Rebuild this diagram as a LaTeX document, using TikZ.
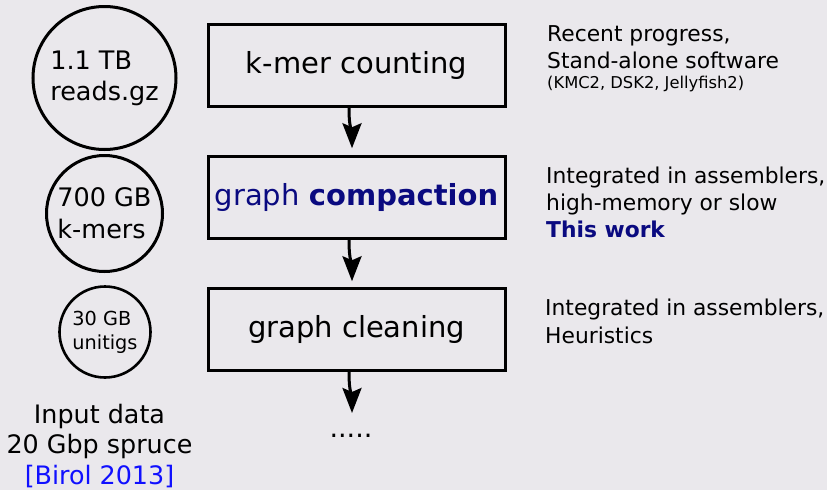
\documentclass[tikz,border=0pt]{standalone}
\usepackage{fontspec}
\setmainfont{DejaVu Sans}
\usetikzlibrary{arrows.meta,calc}
\definecolor{bg}{HTML}{EAE8EC}
\definecolor{navy}{HTML}{0A0A80}
\definecolor{refblue}{HTML}{1010FF}
\begin{document}
\begin{tikzpicture}[x=1pt,y=-1pt,
  stepbox/.style={draw, line width=3pt, minimum width=297pt, minimum height=81.5pt, inner sep=0pt, font=\fontsize{29}{34}\selectfont},
  databubble/.style={draw, circle, line width=3pt, inner sep=0pt, align=left},
  flow/.style={line width=3pt, -{Stealth[length=25pt,width=19pt,inset=4pt]}},
  note/.style={anchor=base west, inner sep=0pt, font=\fontsize{21.8}{27}\selectfont},
  small/.style={anchor=base west, inner sep=0pt, font=\fontsize{16.3}{19}\selectfont},
  leftlbl/.style={anchor=base, inner sep=0pt, font=\fontsize{25.4}{30}\selectfont}]
\fill[bg] (0,0) rectangle (827,490);
\useasboundingbox (0,0) rectangle (827,490);

% circles
\node[databubble, minimum size=143pt, font=\fontsize{25.5}{31}\selectfont] (c1) at (104.5,78) {1.1 TB\\reads.gz};
\node[databubble, minimum size=116pt, font=\fontsize{25.5}{32}\selectfont] (c2) at (104.5,213.5) {700 GB\\k-mers};
\node[databubble, line width=2.6pt, minimum size=91pt, font=\fontsize{19.3}{24}\selectfont] (c3) at (105,332) {30 GB\\unitigs};

% left caption
\node[leftlbl] (in1) at (99.5,423) {Input data};
\node[leftlbl] (in2) at (99.5,453) {20 Gbp spruce};
\node[leftlbl, text=refblue] (in3) at (99.5,484) {[Birol 2013]};

% boxes
\node[stepbox] (b1) at (356.5,65.5) {k-mer counting};
\node[stepbox, text=navy] (b2) at (356.5,197.5) {graph \textbf{compaction}};
\node[stepbox] (b3) at (356.5,329.5) {graph cleaning};

\coordinate (dend) at (352,413);
\node[anchor=base, inner sep=0pt, font=\fontsize{27}{30}\selectfont] (dots) at (351,437) {.....};

\draw[flow] ($(b1.south)+(-7.5,0)$) .. controls +(0,22) and +(0,-18) .. ($(b2.north)+(-4.5,-7)$);
\draw[flow] ($(b2.south)+(-7.5,0)$) .. controls +(0,22) and +(0,-18) .. ($(b3.north)+(-4.5,-6)$);
\draw[flow] ($(b3.south)+(-7.5,0)$) .. controls +(0,22) and +(0,-18) .. (dend);

% right notes
\node[note] (r1a) at (547,41) {Recent progress,};
\node[note] (r1b) at (547,68) {Stand-alone software};
\node[small] (r1c) at (547,88) {(KMC2, DSK2, Jellyfish2)};

\node[note] (r2a) at (546,183) {Integrated in assemblers,};
\node[note] (r2b) at (546,210) {high-memory or slow};
\node[note, text=navy] (r2c) at (546,237) {\textbf{This work}};

\node[note] (r3a) at (545,315) {Integrated in assemblers,};
\node[note] (r3b) at (545,343) {Heuristics};
\end{tikzpicture}
\end{document}
